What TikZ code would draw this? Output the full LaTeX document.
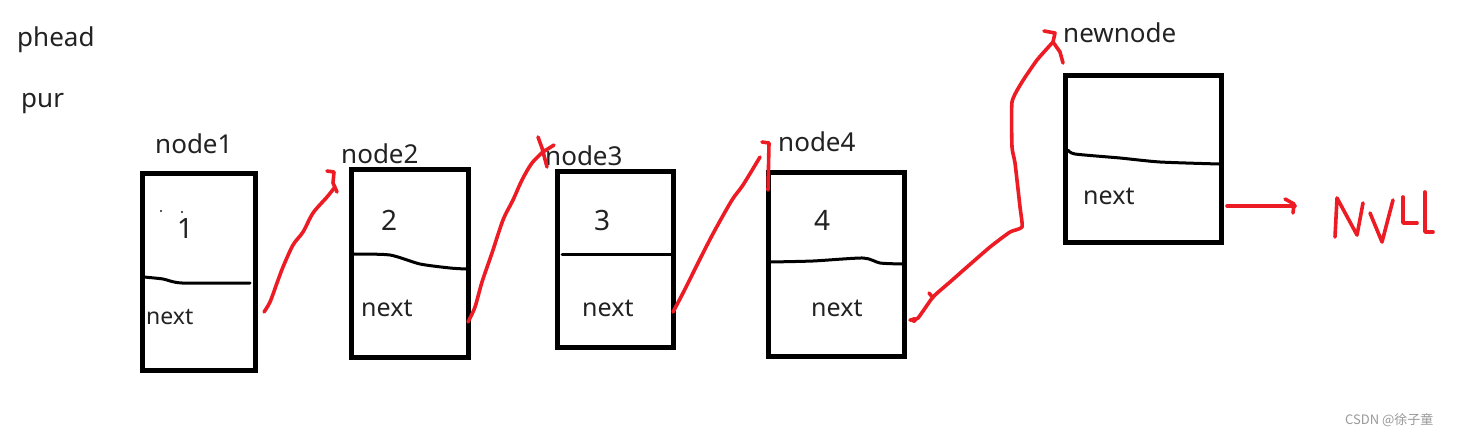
\documentclass[tikz,border=0pt]{standalone}
\usepackage{fontspec}
\setmainfont{Noto Sans}
\newfontfamily\cjkfont{Noto Sans CJK SC}
\definecolor{pen}{HTML}{ED1C24}
\definecolor{ink}{HTML}{222222}
\definecolor{wm}{HTML}{999999}
\begin{document}
\begin{tikzpicture}[x=1pt,y=-1pt,
  box/.style={draw=black,line width=5pt,rectangle,inner sep=0pt,outer sep=0pt},
  divline/.style={draw=black,line width=3pt,line cap=round,line join=round},
  redpen/.style={draw=pen,line width=3.6pt,line cap=round,line join=round},
  lbl/.style={anchor=base west,inner sep=0pt,text=ink,font=\fontsize{26}{30}\selectfont},
  digit/.style={anchor=base west,inner sep=0pt,text=ink,font=\fontsize{28}{32}\selectfont},
  nxt/.style={anchor=base west,inner sep=0pt,text=ink,font=\fontsize{25}{30}\selectfont}]
\useasboundingbox[fill=white] (0,0) rectangle (1461,436);

% boxes
\node[box,minimum width=113pt,minimum height=197pt] (b1) at (198.5,271.5) {};
\node[box,minimum width=117pt,minimum height=188pt] (b2) at (409.5,263) {};
\node[box,minimum width=116pt,minimum height=176pt] (b3) at (615,259) {};
\node[box,minimum width=136pt,minimum height=184pt] (b4) at (836,264) {};
\node[box,minimum width=156pt,minimum height=167pt] (b5) at (1143,158.5) {};

% dividers
\draw[divline] plot[smooth,tension=0.4] coordinates {(144,277) (163,279) (182,283) (250,283)};
\draw[divline] plot[smooth,tension=0.4] coordinates {(353,254) (390,255) (420,264) (450,268) (466,269)};
\draw[divline] (562,254) -- (671,254);
\draw[divline] plot[smooth,tension=0.4] coordinates {(770,262) (813,261) (863,258) (880,263) (902,264)};
\draw[divline] plot[smooth,tension=0.4] coordinates {(1068,150) (1075,154) (1120,158) (1160,162) (1219,164)};

% labels
\node[lbl] (phead) at (17,47) {phead};
\node[lbl] (pur) at (21,107) {pur};
\node[lbl] (l1) at (155,153) {node1};
\node[lbl] (l2) at (341,163) {node2};
\node[lbl] (l3) at (545,165) {node3};
\node[lbl] (l4) at (778,151) {node4};
\node[lbl] (l5) at (1063,43) {newnode};

\node[digit] (d1) at (177,238) {1};
\node[digit] (d2) at (381,230) {2};
\node[digit] (d3) at (594,230) {3};
\node[digit] (d4) at (814,230) {4};
\fill[ink] (161,211) circle (1.2pt) (182,212) circle (1.2pt);

\node[nxt,font=\fontsize{23}{28}\selectfont] (x1) at (146,324) {next};
\node[nxt] (x2) at (361,316) {next};
\node[nxt] (x3) at (582,316) {next};
\node[nxt] (x4) at (811,316) {next};
\node[nxt] (x5) at (1083,204) {next};

% connector end points
\coordinate (a1s) at (264,312);
\coordinate (a1e) at (335,187);
\coordinate (a2s) at (468,322);
\coordinate (a2e) at (545,150);
\coordinate (a3s) at (673,312);
\coordinate (a3e) at (760,157);
\coordinate (a4s) at (910,320);
\coordinate (a4e) at (1053,42);
\coordinate (a5s) at (1227,206);
\coordinate (a5e) at (1295,206);

% red freehand arrows
\draw[redpen] plot[smooth,tension=0.5] coordinates {(a1s) (270,302) (277,283) (283,267) (293,245) (303,232) (313,213) (327,197) (a1e)};
\draw[redpen] (327,171) -- (334,172) -- (333,183) -- (337,192);

\draw[redpen] plot[smooth,tension=0.5] coordinates {(a2s) (475,307) (482,282) (492,253) (503,220) (513,200) (522,180) (532,163) (a2e)};
\draw[redpen] (538,137) -- (542,148) -- (547,167);
\draw[redpen] (543,152) -- (554,145);

\draw[redpen] plot[smooth,tension=0.5] coordinates {(a3s) (683,293) (702,255) (715,230) (732,200) (743,185) (a3e)};
\draw[redpen] (762,142) -- (769,143) -- (768,190);

\draw[redpen] plot[smooth,tension=0.3] coordinates {(a4s) (918,318) (933,297) (950,282) (967,267) (990,247) (1010,232) (1022,227) (1020,207) (1015,163) (1012,147) (1012,102) (1022,82) (1037,60) (a4e)};
\draw[redpen] (a4e) -- (1055,33) -- (1044,31);
\draw[redpen] (a4e) -- (1060,52) -- (1063,63);
\draw[redpen] (929,293) -- (933,298);
\fill[pen] (914,320) circle (3pt);

\draw[redpen] (a5s) -- (a5e);
\draw[redpen] (1285,199) -- (1294,204) -- (1293,213);

% NULL (hand-written)
\draw[redpen] (1335,237) -- (1337,198) -- (1357,235) -- (1363,203);
\draw[redpen] (1370,213) -- (1382,242) -- (1393,200);
\draw[redpen] (1403,197) -- (1403,223) -- (1417,223);
\draw[redpen] (1425,192) -- (1425,232) -- (1433,232);

% watermark
\node[anchor=base west,inner sep=0pt,text=wm,font=\cjkfont\fontsize{13}{15}\selectfont] (wmk) at (1345,424) {CSDN @徐子童};
\end{tikzpicture}
\end{document}
